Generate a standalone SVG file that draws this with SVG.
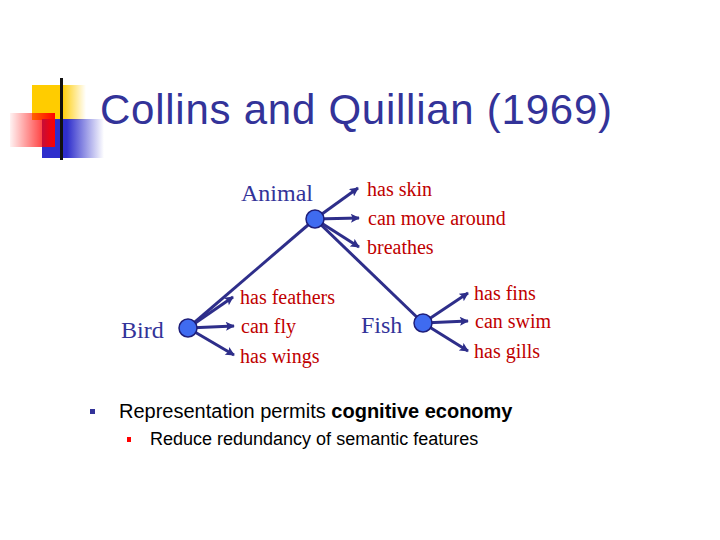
<svg xmlns="http://www.w3.org/2000/svg" width="720" height="540" viewBox="0 0 720 540">
<defs>
<linearGradient id="gy" x1="0" y1="0" x2="1" y2="0"><stop offset="0" stop-color="#FFCC00"/><stop offset="0.55" stop-color="#FFCC00"/><stop offset="1" stop-color="#FFCC00" stop-opacity="0"/></linearGradient>
<linearGradient id="gr" x1="0" y1="0" x2="1" y2="0"><stop offset="0" stop-color="#FF0000" stop-opacity="0.05"/><stop offset="1" stop-color="#FF0000"/></linearGradient>
<linearGradient id="gb" x1="0" y1="0" x2="1" y2="0"><stop offset="0" stop-color="#2E2ECC"/><stop offset="0.4" stop-color="#2E2ECC"/><stop offset="1" stop-color="#2E2ECC" stop-opacity="0"/></linearGradient>
<marker id="ah" viewBox="0 0 10 10" refX="9" refY="5" markerWidth="10" markerHeight="9" markerUnits="userSpaceOnUse" orient="auto"><path d="M0,0 L10,5 L0,10 L2,5 z" fill="#2E2E8A"/></marker>
<style>
.title{font-family:"Liberation Sans",Arial,sans-serif;font-size:42px;fill:#333399}
.node{font-family:"Liberation Serif","Times New Roman",serif;font-size:24px;fill:#333399}
.lab{font-family:"Liberation Serif","Times New Roman",serif;font-size:20px;fill:#C00000}
.bul{font-family:"Liberation Sans",Arial,sans-serif;fill:#000}
.ln{stroke:#2E2E8A;stroke-width:3;fill:none}
.arr{stroke:#2E2E8A;stroke-width:3;fill:none;marker-end:url(#ah)}
.dot{fill:#3F6BF0;stroke:#1E1E7A;stroke-width:1.5}
</style>
</defs>
<rect width="720" height="540" fill="#fff"/>
<g id="logo">
<rect x="32" y="85" width="54" height="35" fill="url(#gy)"/>
<rect x="42" y="119" width="62" height="39" fill="url(#gb)"/>
<rect x="10" y="113" width="45" height="34" fill="url(#gr)"/>
<rect x="60" y="78" width="3" height="82" fill="#111"/>
</g>
<text class="title" x="100" y="124" textLength="512" lengthAdjust="spacing">Collins and Quillian (1969)</text>
<g id="connectors">
<line class="ln" x1="315" y1="219" x2="188" y2="328"/>
<line class="ln" x1="315" y1="219" x2="423" y2="323"/>
<line class="arr" x1="315" y1="219" x2="358" y2="188"/>
<line class="arr" x1="315" y1="219" x2="359" y2="218"/>
<line class="arr" x1="315" y1="219" x2="359" y2="247"/>
<line class="arr" x1="188" y1="328" x2="233" y2="297"/>
<line class="arr" x1="188" y1="328" x2="234" y2="326"/>
<line class="arr" x1="188" y1="328" x2="234" y2="355"/>
<line class="arr" x1="423" y1="323" x2="468" y2="293"/>
<line class="arr" x1="423" y1="323" x2="468" y2="321"/>
<line class="arr" x1="423" y1="323" x2="468" y2="351"/>
</g>
<g id="animal">
<circle class="dot" cx="315" cy="219" r="9"/>
<text class="node" x="241" y="201">Animal</text>
<text class="lab" x="367" y="196">has skin</text>
<text class="lab" x="368" y="225">can move around</text>
<text class="lab" x="367" y="254">breathes</text>
</g>
<g id="bird">
<circle class="dot" cx="188" cy="328" r="9"/>
<text class="node" x="121" y="338">Bird</text>
<text class="lab" x="240" y="304">has feathers</text>
<text class="lab" x="241" y="333">can fly</text>
<text class="lab" x="240" y="363">has wings</text>
</g>
<g id="fish">
<circle class="dot" cx="423" cy="323" r="9"/>
<text class="node" x="361" y="333">Fish</text>
<text class="lab" x="474" y="300">has fins</text>
<text class="lab" x="475" y="328">can swim</text>
<text class="lab" x="474" y="358">has gills</text>
</g>
<g id="bullets">
<rect x="90" y="409" width="5" height="5" fill="#333399"/>
<text class="bul" x="119" y="418" font-size="20">Representation permits <tspan font-weight="bold">cognitive economy</tspan></text>
<rect x="127" y="437" width="4" height="5" fill="#FF0000"/>
<text class="bul" x="150" y="445" font-size="18">Reduce redundancy of semantic features</text>
</g>
</svg>
